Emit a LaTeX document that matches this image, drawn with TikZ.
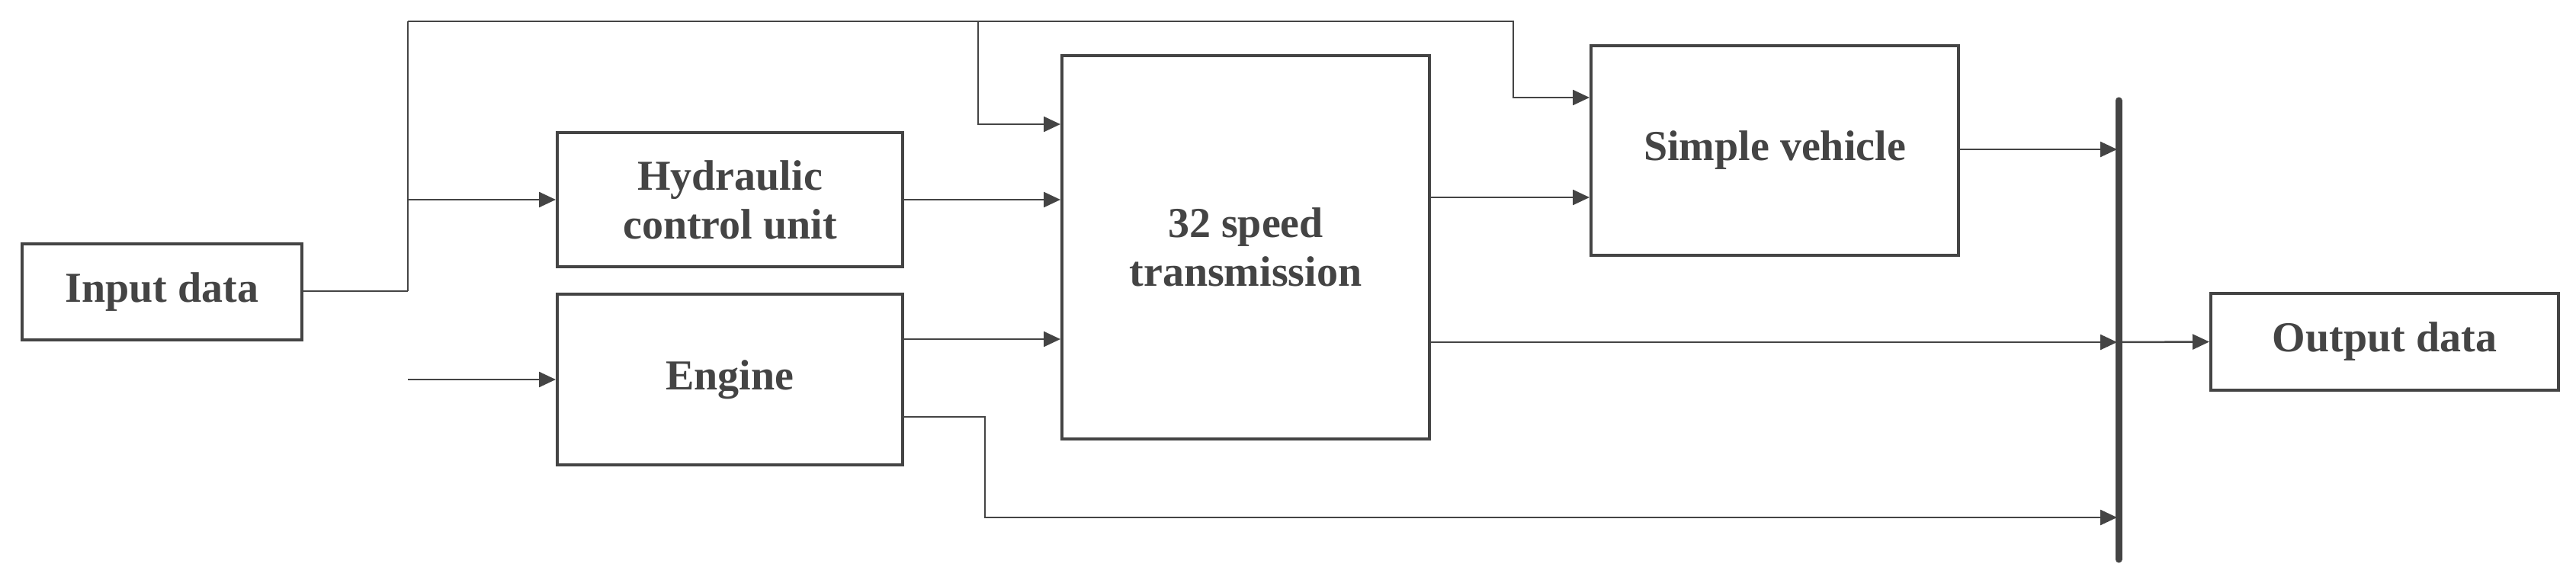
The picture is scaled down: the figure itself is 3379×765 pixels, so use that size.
\documentclass[tikz,border=0pt]{standalone}
\usepackage{fontspec}
\setmainfont{Liberation Serif}
\usetikzlibrary{arrows.meta}
\definecolor{dg}{HTML}{444444}
\begin{document}
\begin{tikzpicture}[x=1pt,y=-1pt,
 box/.style={draw=dg,line width=4pt,inner sep=0pt,font=\fontsize{56}{64}\selectfont\bfseries,text=dg,align=center},
 ln/.style={draw=dg,line width=2.5pt},
 ar/.style={ln,-{Triangle[length=22pt,width=20pt]}}]
\useasboundingbox (0,0) rectangle (3379,765);
\node[box,minimum width=367pt,minimum height=126pt] (in) at (212.5,383) {Input data};
\node[box,minimum width=453pt,minimum height=176pt] (hy) at (957.5,262) {Hydraulic\\control unit};
\node[box,minimum width=453pt,minimum height=224pt] (en) at (957.5,498) {Engine};
\node[box,minimum width=482pt,minimum height=503pt] (tr) at (1634,324.5) {32 speed\\transmission};
\node[box,minimum width=482pt,minimum height=275pt] (sv) at (2328,197.5) {Simple vehicle};
\node[box,minimum width=456pt,minimum height=127pt] (out) at (3128,448.5) {Output data};
\coordinate (bt) at (2779,132);
\coordinate (bb) at (2779,734);
\draw[dg,line width=9pt,line cap=round] (bt) -- (bb);
\coordinate (j) at (535,382);
\coordinate (top) at (535,28);
\draw[ln] (in.east |- j) -- (j);
\draw[ln] (top) -- (j);
\draw[ar] (535,262) -- (hy.west);
\draw[ar] (535,498) -- (en.west);
\draw[ar] (top) -- (1985,28) -- (1985,128) -- (sv.west |- 0,128);
\draw[ar] (1283,28) -- (1283,163) -- (tr.west |- 0,163);
\draw[ar] (hy.east) -- (tr.west |- hy.east);
\draw[ar] (en.east |- 0,445) -- (tr.west |- 0,445);
\draw[ar] (tr.east |- 0,259) -- (sv.west |- 0,259);
\draw[ar] (sv.east |- 0,196) -- (2777,196);
\draw[ar] (tr.east |- 0,449) -- (2777,449);
\draw[ar] (en.east |- 0,547) -- (1292,547) -- (1292,679) -- (2777,679);
\draw[ar] (2779,449) -- (out.west);
\end{tikzpicture}
\end{document}
